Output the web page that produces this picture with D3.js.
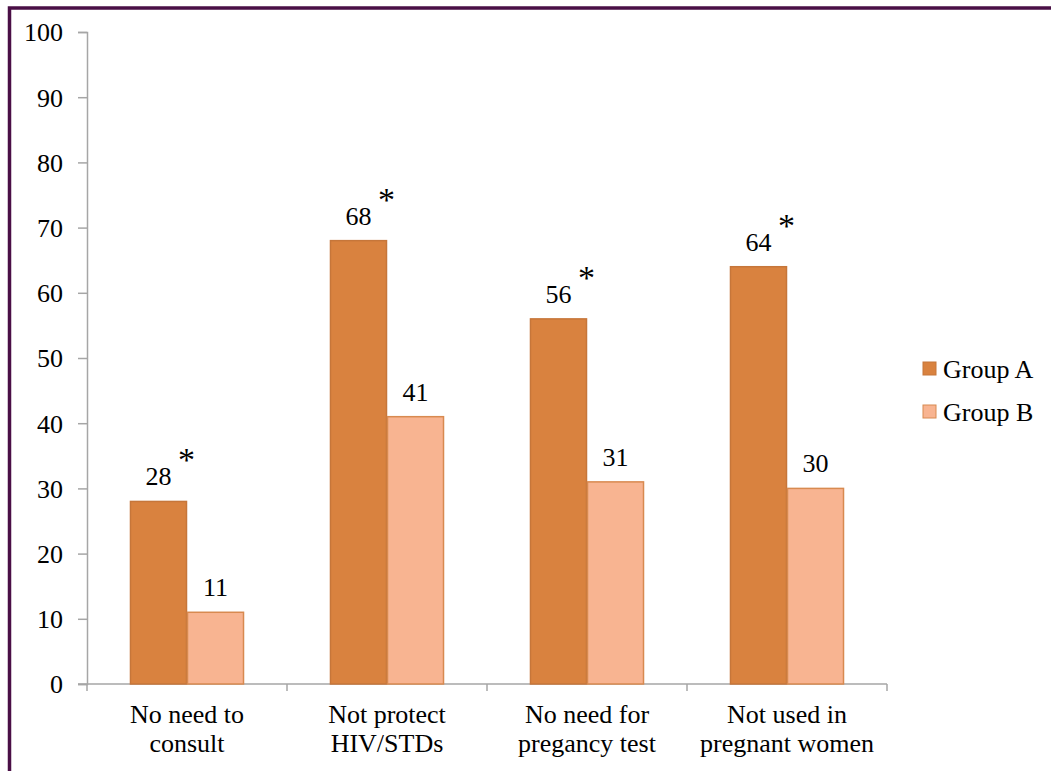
<!DOCTYPE html>
<html>
<head>
<meta charset="utf-8">
<script src="https://cdn.jsdelivr.net/npm/d3@7"></script>
</head>
<body style="margin:0; background:#fff">
<div id="chart"></div>
<script>
// data
let categories = [["No need to", "consult"], ["Not protect", "HIV/STDs"], ["No need for", "pregancy test"], ["Not used in", "pregnant women"]];
let groups = ["Group A", "Group B"];
let groupA = [28, 68, 56, 64];
let groupB = [11, 41, 31, 30];
let significant = [true, true, true, true]; // asterisk over Group A
let yTicks = [0, 10, 20, 30, 40, 50, 60, 70, 80, 90, 100];

let width = 1051, height = 771;
let margin = { top: 32, left: 87, right: 164, bottom: 87 };
let colors = { "Group A": "#d9823f", "Group B": "#f8b491" };
let strokes = { "Group A": "#c6763a", "Group B": "#d88a50" };
let font = "Liberation Serif";
let fontSize = "26px";

let svg = d3.select("#chart")
    .append("svg")
    .attr("width", width)
    .attr("height", height)
    .attr("font-family", font);

svg.append("rect")
    .attr("width", width).attr("height", height)
    .attr("fill", "#fff");

// purple frame
svg.append("rect")
    .attr("x", 9.5)
    .attr("y", 8)
    .attr("width", width + 20)
    .attr("height", height + 20)
    .attr("fill", "none")
    .attr("stroke", "#4a0f46")
    .attr("stroke-width", 3.5);

let x0 = d3.scaleBand()
    .domain(d3.range(categories.length))
    .range([margin.left, width - margin.right])
    .padding(0);

let x1 = d3.scaleBand()
    .domain(groups)
    .range([0, x0.bandwidth()])
    .paddingInner(0)
    .paddingOuter(0.754);

let y = d3.scaleLinear()
    .domain([0, 100])
    .range([height - margin.bottom, margin.top]);

// Y axis
let yAxis = svg.append("g")
    .attr("transform", `translate(${margin.left},0)`)
    .call(d3.axisLeft(y).tickValues(yTicks).tickSize(9).tickPadding(15))
    .attr("font-family", font);
yAxis.selectAll("line, path").attr("stroke", "#a6a6a6").attr("stroke-width", 1.5);
yAxis.selectAll("text")
    .attr("font-family", font)
    .attr("font-size", fontSize)
    .attr("fill", "#000")
    .attr("dy", "0.34em");

// X axis
let xAxis = svg.append("g")
    .attr("transform", `translate(0,${y(0)})`);
xAxis.append("line")
    .attr("x1", x0.range()[0] - 9).attr("x2", x0.range()[1])
    .attr("stroke", "#a6a6a6").attr("stroke-width", 1.5);
xAxis.selectAll(".tick")
    .data(d3.range(categories.length + 1))
    .enter()
    .append("line")
    .attr("x1", i => margin.left + i * x0.step())
    .attr("x2", i => margin.left + i * x0.step())
    .attr("y1", 0).attr("y2", 7)
    .attr("stroke", "#a6a6a6").attr("stroke-width", 1.5);

// category labels, two lines each
xAxis.selectAll(".cat")
    .data(categories.flatMap((lines, i) => lines.map((line, j) => ({ line, i, j }))))
    .enter()
    .append("text")
    .attr("class", "cat")
    .attr("x", d => x0(d.i) + x0.bandwidth() / 2)
    .attr("y", d => 39 + d.j * 29)
    .attr("text-anchor", "middle")
    .attr("font-family", font)
    .attr("font-size", fontSize)
    .attr("fill", "#000")
    .text(d => d.line);

// Bars
let rows = categories.map((c, i) => ({ i, values: [groupA[i], groupB[i]] }));
let cat = svg.selectAll(".category")
    .data(rows)
    .enter()
    .append("g")
    .attr("transform", d => `translate(${x0(d.i)},0)`);

let bars = cat.selectAll("g")
    .data(d => groups.map((g, k) => ({ g, v: d.values[k], i: d.i })))
    .enter()
    .append("g");

bars.append("rect")
    .attr("x", d => x1(d.g) + 0.5)
    .attr("y", d => y(d.v))
    .attr("width", x1.bandwidth() - 1)
    .attr("height", d => y(0) - y(d.v))
    .attr("fill", d => colors[d.g])
    .attr("stroke", d => strokes[d.g])
    .attr("stroke-width", 1.5);

bars.append("text")
    .attr("x", d => x1(d.g) + x1.bandwidth() / 2)
    .attr("y", d => y(d.v) - 16)
    .attr("text-anchor", "middle")
    .attr("font-family", font)
    .attr("font-size", fontSize)
    .attr("fill", "#000")
    .text(d => d.v);

// significance asterisks
bars.filter(d => d.g === "Group A" && significant[d.i])
    .append("text")
    .attr("x", d => x1(d.g) + x1.bandwidth() / 2 + 28)
    .attr("y", d => y(d.v) - 30)
    .attr("text-anchor", "middle")
    .attr("font-family", font)
    .attr("font-size", "34px")
    .attr("fill", "#000")
    .text("*");

// Legend
let legend = svg.append("g")
    .attr("transform", "translate(923,362)");
let items = legend.selectAll("g")
    .data(groups)
    .enter()
    .append("g")
    .attr("transform", (d, i) => `translate(0,${i * 43})`);
items.append("rect")
    .attr("width", 13)
    .attr("height", 13)
    .attr("fill", d => colors[d])
    .attr("stroke", d => strokes[d])
    .attr("stroke-width", 1);
items.append("text")
    .attr("x", 20)
    .attr("y", 16)
    .attr("font-family", font)
    .attr("font-size", fontSize)
    .attr("fill", "#000")
    .text(d => d);
</script>
</body>
</html>
